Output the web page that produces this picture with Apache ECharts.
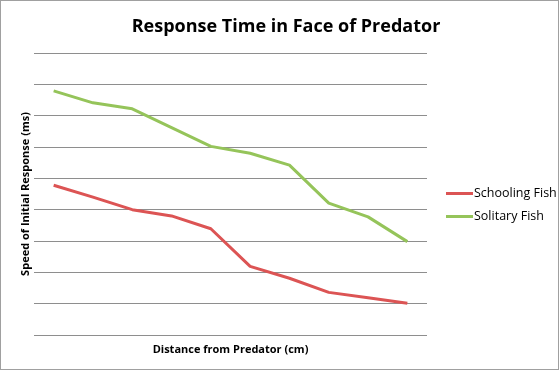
<!DOCTYPE html>
<html>
<head>
<meta charset="utf-8">
<script src="https://cdn.jsdelivr.net/npm/echarts@6/dist/echarts.min.js"></script>
<style>
html,body{margin:0;padding:0;background:#fff;}
#c{width:559px;height:370px;box-sizing:border-box;border:1px solid #a0a0a0;}
</style>
</head>
<body>
<div id="c"></div>
<script>
const categories = ['1','2','3','4','5','6','7','8','9','10'];
const schoolingFish = [4.78, 4.40, 4.00, 3.80, 3.39, 2.19, 1.81, 1.36, 1.19, 1.01];
const solitaryFish = [7.79, 7.41, 7.22, 6.62, 6.02, 5.80, 5.42, 4.21, 3.77, 2.98];
const seriesNames = ['Schooling Fish', 'Solitary Fish'];

const chart = echarts.init(document.getElementById('c'));
chart.setOption({
  animation: false,
  title: {
    text: 'Response Time in Face of Predator',
    left: 280,
    textAlign: 'center',
    top: 12,
    textStyle: {fontFamily: 'Open Sans', fontWeight: 'bold', fontSize: 18, color: '#000'}
  },
  legend: {
    orient: 'vertical',
    left: 440,
    top: 181,
    itemWidth: 27,
    itemHeight: 3,
    itemGap: 10,
    icon: 'rect',
    textStyle: {fontFamily: 'Open Sans', fontSize: 12.5, color: '#000', padding: [0,0,0,-4]},
    data: seriesNames
  },
  grid: {left: 33, right: 131, top: 52, bottom: 34},
  xAxis: {
    type: 'category',
    data: categories,
    boundaryGap: true,
    name: 'Distance from Predator (cm)',
    nameLocation: 'middle',
    nameGap: 9,
    nameTextStyle: {fontFamily: 'Open Sans', fontWeight: 'bold', fontSize: 11, color: '#000'},
    axisLine: {show: false},
    axisTick: {show: false},
    axisLabel: {show: false}
  },
  yAxis: {
    type: 'value',
    min: 0, max: 9, interval: 1,
    name: 'Speed of Initial Response (ms)',
    nameLocation: 'middle',
    nameGap: 3,
    nameTextStyle: {fontFamily: 'Open Sans', fontWeight: 'bold', fontSize: 11, color: '#000'},
    axisLine: {show: false},
    axisTick: {show: false},
    axisLabel: {show: false},
    splitLine: {show: true, lineStyle: {color: '#8e8e8e', width: 1}}
  },
  series: [
    {name: seriesNames[0], type: 'line', data: schoolingFish, symbol: 'none', color: '#dc5454',
     lineStyle: {width: 3, color: '#dc5454'}},
    {name: seriesNames[1], type: 'line', data: solitaryFish, symbol: 'none', color: '#95c45a',
     lineStyle: {width: 3, color: '#95c45a'}}
  ]
});
</script>
</body>
</html>
